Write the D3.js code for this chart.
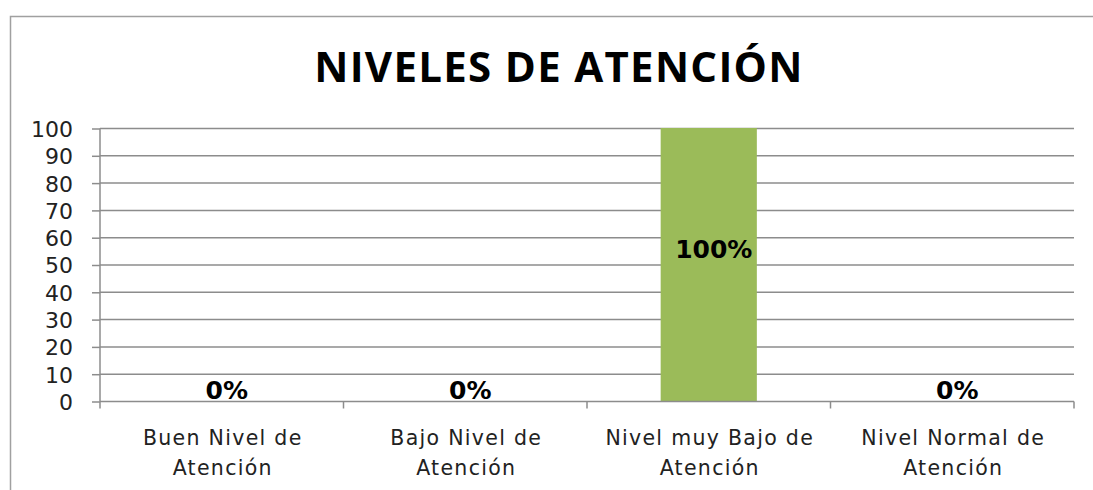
<!DOCTYPE html>
<html><head><meta charset="utf-8">
<script src="https://cdn.jsdelivr.net/npm/d3@7"></script>
<style>body{margin:0;background:#fff}svg{display:block}</style>
</head><body>
<svg id="c" width="1093" height="490"></svg>
<script>
const categories = [["Buen Nivel de","Atención"],["Bajo Nivel de","Atención"],["Nivel muy Bajo de","Atención"],["Nivel Normal de","Atención"]];
const values = [0, 0, 100, 0];
const yTicks = [0,10,20,30,40,50,60,70,80,90,100];
const title = "NIVELES DE ATENCIÓN";

const svg = d3.select("#c");
svg.append("rect").attr("x",10.5).attr("y",16.5).attr("width",1100).attr("height",500)
  .attr("fill","none").attr("stroke","#a0a0a0").attr("stroke-width",1.5);

const L=100, R=1074, T=128, B=401;
const x = d3.scaleBand().domain(d3.range(categories.length)).range([L,R]).paddingInner(0.605).paddingOuter(0.3025);
const y = d3.scaleLinear().domain([0,100]).range([B,T]);

svg.append("text").attr("x",559).attr("y",82).attr("text-anchor","middle")
  .attr("font-family","Open Sans, Liberation Sans, sans-serif").attr("font-weight","bold").attr("font-size",42)
  .attr("letter-spacing",1.3).attr("fill","#000").text(title);

// gridlines
svg.append("g").selectAll("line").data(yTicks.filter(d=>d>0)).join("line")
  .attr("x1",L).attr("x2",R).attr("y1",d=>y(d)+0.5).attr("y2",d=>y(d)+0.5)
  .attr("stroke","#8c8c8c").attr("stroke-width",1.5);

// y axis
const ya = svg.append("g").attr("transform",`translate(${L},0.5)`)
  .call(d3.axisLeft(y).tickValues(yTicks).tickSize(8).tickPadding(19));
ya.select(".domain").attr("stroke","#8c8c8c").attr("stroke-width",1.5).attr("d",`M0,${T}V${B}`);
ya.selectAll(".tick line").attr("stroke","#8c8c8c").attr("stroke-width",1.5);
ya.selectAll(".tick text").attr("font-family","DejaVu Sans, sans-serif").attr("font-size",22).attr("fill","#222").attr("dy","0.36em");

// bars
svg.append("g").selectAll("rect").data(values).join("rect")
  .attr("x",(d,i)=>x(i)).attr("width",x.bandwidth())
  .attr("y",d=>y(d)).attr("height",d=>B-y(d)).attr("fill","#9bbb59");

// x axis
const step = (R-L)/categories.length;
const xg = svg.append("g").attr("transform",`translate(0,${B+0.5})`);
xg.append("line").attr("x1",L).attr("x2",R).attr("stroke","#8c8c8c").attr("stroke-width",1.5);
xg.selectAll("line.t").data(d3.range(categories.length+1)).join("line").attr("class","t")
  .attr("x1",i=>L+i*step).attr("x2",i=>L+i*step).attr("y1",0).attr("y2",7)
  .attr("stroke","#8c8c8c").attr("stroke-width",1.5);
const lbl = xg.selectAll("text").data(categories).join("text")
  .attr("text-anchor","middle").attr("font-family","DejaVu Sans, sans-serif").attr("font-size",20.5)
  .attr("letter-spacing",1.3).attr("fill","#222");
lbl.each(function(d,i){
  const t=d3.select(this);
  d.forEach((s,k)=>t.append("tspan").attr("x",x(i)+x.bandwidth()/2+1).attr("y",43+k*30).text(s));
});

// data labels
svg.append("g").selectAll("text").data(values).join("text")
  .attr("x",(d,i)=>x(i)+x.bandwidth()/2+5)
  .attr("y",d=>d>0 ? (y(d)+B)/2-7 : B-2)
  .attr("text-anchor","middle").attr("font-family","DejaVu Sans, sans-serif").attr("font-weight","bold").attr("font-size",25).attr("fill","#000")
  .text(d=>d+"%");
</script>
</body></html>
